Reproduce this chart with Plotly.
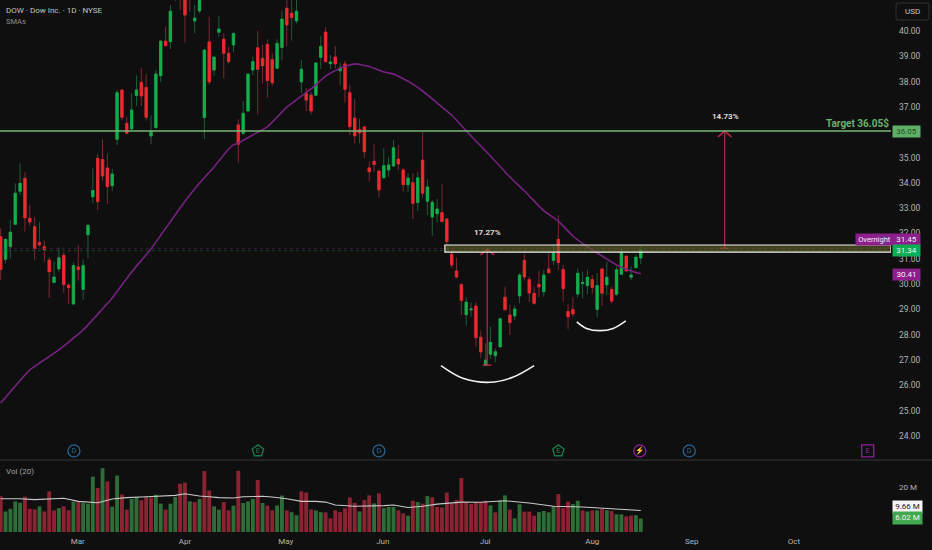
import plotly.graph_objects as go

opens = [31.87,30.98,31.48,32.36,33.67,34.18,32.60,32.27,31.64,31.48,
30.95,30.06,30.60,31.14,29.96,29.21,30.68,29.79,31.95,33.45,
34.97,34.92,34.59,33.89,35.72,37.67,36.35,36.13,37.45,37.97,
37.77,35.85,36.18,38.23,39.60,39.58,41.6,42.3,42.0,42.1,
40.40,40.79,36.58,39.57,38.46,39.95,39.68,39.12,39.45,36.29,
35.96,36.84,38.46,39.34,38.92,39.47,38.87,38.53,39.35,40.90,
40.70,40.40,37.99,37.54,37.47,37.46,38.96,39.96,38.71,38.97,
38.43,38.70,37.56,36.56,36.11,36.21,34.59,34.85,34.47,34.20,
34.51,34.67,34.94,34.51,33.93,34.01,33.22,34.90,33.27,32.65,
32.78,32.82,32.57,31.18,30.52,29.99,28.79,28.98,29.13,27.90,
26.78,27.23,27.17,27.52,29.48,28.78,28.74,29.53,30.94,30.18,
29.64,29.99,29.70,30.60,30.93,31.77,30.58,28.92,29.00,29.61,
30.02,29.94,30.18,29.00,30.60,29.97,29.79,29.60,30.39,31.10,
30.27,30.65,31.03]
highs = [32.20,31.80,32.53,33.98,34.77,34.42,33.13,32.66,32.44,31.72,
31.06,30.89,31.45,31.26,30.03,30.85,31.55,30.98,32.37,34.57,
35.13,35.72,35.15,34.55,37.67,37.71,36.62,37.54,38.25,38.55,
38.30,36.67,38.46,39.64,40.15,41.03,42.2,42.8,42.5,42.6,
41.03,42.0,39.29,40.57,38.99,40.59,39.91,39.38,39.95,36.52,
37.23,38.30,38.99,40.01,39.47,39.67,39.12,39.67,40.80,41.6,
41.4,41.5,38.85,37.73,37.60,38.76,39.80,40.15,39.05,39.39,
38.76,38.83,37.87,37.31,36.55,36.26,34.84,35.52,34.48,35.36,
35.03,35.69,35.49,34.60,34.38,34.38,34.44,36.02,34.14,33.32,
33.36,33.96,32.60,31.35,31.04,30.00,29.48,29.27,29.27,28.16,
27.66,28.32,27.46,28.67,29.89,29.18,29.15,30.43,31.19,30.29,
29.90,30.52,30.56,31.22,31.55,32.73,30.76,29.21,29.48,30.62,
30.49,30.56,30.36,30.43,30.65,30.89,29.90,30.69,31.41,31.15,
30.71,31.15,31.51]
lows = [30.16,30.82,31.02,32.34,33.52,32.07,32.30,30.93,31.48,30.89,
29.46,30.06,30.49,29.66,29.21,29.20,30.14,29.37,31.02,33.19,
32.93,34.09,33.16,33.68,35.50,36.48,35.93,36.06,37.04,37.04,
36.46,35.52,36.15,37.99,39.38,39.29,41.19,40.83,39.55,40.76,
39.91,40.70,35.73,37.89,38.23,39.78,38.13,38.72,39.16,34.80,
35.89,36.84,38.26,36.71,37.93,37.37,37.84,38.49,38.85,39.41,
39.62,40.30,37.56,36.84,36.71,37.45,38.50,38.76,38.50,38.53,
37.84,37.18,35.89,35.56,35.56,34.99,34.05,34.44,33.43,34.18,
34.25,34.64,34.51,33.65,33.65,32.57,32.89,33.42,32.73,31.91,
32.43,32.43,31.54,30.65,30.23,28.78,28.36,28.71,27.53,27.07,
26.78,27.04,26.91,27.50,28.95,27.99,28.58,29.24,30.14,29.29,
29.18,29.48,29.50,30.43,30.76,30.56,29.31,28.23,28.69,29.48,
29.44,29.60,29.64,28.69,29.15,29.57,29.24,29.54,30.36,30.49,
30.16,30.62,30.79]
closes = [30.58,31.77,32.05,33.59,33.98,32.62,32.45,31.40,31.55,31.36,
30.49,30.28,31.04,29.98,29.86,30.73,30.57,30.73,32.32,33.70,
33.26,34.27,33.85,34.35,37.56,36.59,35.96,36.88,37.67,37.43,
36.59,36.02,38.30,39.60,39.42,40.78,42.0,41.5,40.63,41.4,
40.51,41.5,39.25,37.99,38.97,40.08,39.12,38.79,39.90,35.53,
36.75,38.30,38.79,38.49,38.63,38.04,37.96,39.51,40.47,40.24,
40.53,40.78,38.49,37.27,36.84,38.74,39.39,38.79,38.78,38.70,
38.54,37.70,36.22,35.86,35.97,35.23,34.44,34.73,33.72,34.68,
34.71,35.39,34.75,33.93,34.19,33.19,34.20,33.59,33.84,33.23,
32.97,32.47,31.68,30.75,30.28,29.35,29.29,29.02,27.88,27.32,
27.00,27.70,27.33,28.63,28.99,28.48,29.02,30.36,30.28,29.65,
29.24,29.89,30.36,30.45,31.22,30.85,29.82,28.71,28.82,30.43,
30.07,30.27,29.87,29.94,29.64,30.27,29.33,30.57,31.24,30.52,
30.36,31.06,31.34]
volumes = [16.0,9.2,10.4,13.7,13.1,15.8,10.4,10.1,11.5,9.2,
18.2,9.7,10.7,11.5,9.7,13.6,13.6,13.0,12.7,24.8,
19.7,28.6,22.7,11.3,25.3,16.8,10.0,14.8,15.7,14.2,
15.7,15.4,16.7,12.7,10.0,12.7,15.7,21.6,22.1,13.7,
13.4,14.8,27.3,18.6,11.5,10.0,13.4,9.7,11.8,27.4,
13.0,13.7,14.8,23.3,13.0,11.8,9.7,11.9,16.3,9.7,
8.9,7.5,18.2,17.7,10.1,9.7,8.9,8.8,6.1,9.7,
8.9,10.6,15.5,13.1,9.2,14.3,16.4,12.8,17.3,10.7,
11.2,11.2,9.7,8.3,7.3,14.0,13.4,12.7,16.1,15.5,
11.2,11.0,17.7,12.7,14.3,24.2,13.3,12.5,13.3,13.3,
14.0,11.9,8.8,14.2,16.4,10.0,6.1,12.4,9.1,9.1,
7.3,8.9,9.4,8.8,11.5,17.0,10.7,13.6,12.5,14.0,
9.7,9.2,9.7,9.7,10.3,9.8,9.4,7.9,7.9,7.0,
7.3,7.5,6.02]
volume_direction = ("DUUUUDDDUD" "DDUDDUDUUU" "DUDUUDDUUD" "DDUUDUUDDU"
                    "DUDDUUDDUD" "UUUDUDDUUD" "UUDDDUUDDD" "DDDDUDDUDU"
                    "UUDDUDUDUD" "DDDDDDDDDD" "DUDUUDUUDD" "DUUUUDDDUU"
                    "DUDUDUDUUD" "DUU")
sma_index = [0,6,12,17,23,27,31,37,41,44,47,48,49,52,55,59,62,64,67,70,73,76,79,81,84,87,90,93,97,101,105,108,112,115,118,121,124,127,130,132]
sma_values = [25.30,26.61,27.40,28.19,29.45,30.48,31.39,33.01,33.99,34.63,35.34,35.50,35.58,35.89,36.21,36.99,37.43,37.71,38.22,38.54,38.70,38.60,38.38,38.30,38.02,37.63,37.16,36.68,35.85,35.06,34.23,33.68,32.89,32.49,31.90,31.47,31.11,30.76,30.52,30.41]
vol_sma_index = [0,4,7,10,13,16,20,23,26,30,34,36,38,41,43,45,48,50,54,56,59,62,65,67,69,73,79,81,84,87,90,95,99,104,109,114,120,126,132]
vol_sma_values = [14.9,14.9,14.5,14.9,15.1,13.7,13.1,14.8,15.4,15.8,16.4,16.4,17.1,16.1,15.8,15.4,15.2,15.8,16.0,15.7,14.9,13.7,13.7,13.4,12.1,11.5,11.8,12.1,11.0,11.5,12.5,13.4,13.3,14.0,13.0,11.5,11.2,10.4,9.66]
month_index = [15.9,38,58.8,78.8,99.9,122,142.5,163.6]
month_labels = ["Mar","Apr","May","Jun","Jul","Aug","Sep","Oct"]
price_ticks = [24,25,26,27,28,29,30,31,32,33,34,35,37,38,39,40]
arc1_index = [90.8,95.3,100.9,105.6,110]
arc1_price = [26.78,26.28,26.12,26.32,26.78]
arc2_index = [118.8,120.8,123.6,126.3,128.9]
arc2_price = [28.51,28.25,28.16,28.25,28.55]
event_index = [15.1,53.05,78,115,131.8,142,178.8]
event_labels = ["D","E","D","E","⚡","D","E"]
event_colors = ["#2a6496","#1b7a4b","#2a6496","#1b7a4b","#93209a","#2a6496","#93209a"]
event_symbols = ["circle-open","pentagon-open","circle-open","pentagon-open","circle-open","circle-open","square-open"]
target_price = 36.05
box_low, box_high, box_start = 31.26, 31.545, 91.6
overnight_price, last_price, sma_last = 31.45, 31.34, 30.41
measure1 = (100.33, 26.80, 31.39, "17.27%")
measure2 = (149.3, 31.41, 36.05, "14.73%")

W, H, PLOT_W, PLOT_H = 932, 550, 891, 532
X_MAX = 183.6
BG = "#0f0f0f"
TXT = "#b4b4b4"
FONT = "Roboto"
RED, GREEN = "#f2282f", "#12b04c"
RED_W, GREEN_W = "#7c2a30", "#1d5f38"
MAIN_BOTTOM = 1 - 460 / PLOT_H

fig = go.Figure()
n = len(opens)
idx = list(range(n))

fig.add_trace(go.Bar(x=idx, y=volumes, xaxis="x", yaxis="y2",
    marker=dict(color=["#2e6c38" if d == "U" else "#8b2333" for d in volume_direction], line_width=0)))
fig.add_trace(go.Scatter(x=vol_sma_index, y=vol_sma_values, xaxis="x", yaxis="y2", mode="lines",
    line=dict(color="#c8c8c8", width=1.1)))

fig.add_trace(go.Scatter(x=sma_index, y=sma_values, yaxis="y", mode="lines",
    line=dict(color="#76227f", width=1.6, shape="spline", smoothing=0.3)))

fig.add_trace(go.Candlestick(x=idx, open=opens, high=highs, low=lows, close=closes, yaxis="y",
    increasing=dict(line=dict(color=GREEN_W, width=1), fillcolor=GREEN),
    decreasing=dict(line=dict(color=RED_W, width=1), fillcolor=RED), hoverinfo="skip"))
fig.add_trace(go.Candlestick(x=idx, open=opens, close=closes, yaxis="y",
    high=[max(a, b) for a, b in zip(opens, closes)], low=[min(a, b) for a, b in zip(opens, closes)],
    increasing=dict(line=dict(color=GREEN, width=0.6), fillcolor=GREEN),
    decreasing=dict(line=dict(color=RED, width=0.6), fillcolor=RED), hoverinfo="skip"))

fig.add_trace(go.Scatter(x=arc1_index, y=arc1_price, yaxis="y", mode="lines",
    line=dict(color="#f2f2f2", width=1.6, shape="spline")))
fig.add_trace(go.Scatter(x=arc2_index, y=arc2_price, yaxis="y", mode="lines",
    line=dict(color="#f2f2f2", width=1.6, shape="spline")))

for mx, p0, p1, _ in (measure1, measure2):
    fig.add_trace(go.Scatter(x=[mx, mx], y=[p0, p1], yaxis="y", mode="lines",
        line=dict(color="#a3284f", width=1.3)))
    fig.add_trace(go.Scatter(x=[mx-1.4, mx, mx+1.4], y=[p1-0.24, p1, p1-0.24], yaxis="y", mode="lines",
        line=dict(color="#d4264c", width=1.3)))
    fig.add_trace(go.Scatter(x=[mx-0.9, mx+0.9], y=[p0, p0], yaxis="y", mode="lines",
        line=dict(color="#d4264c", width=1.2)))

fig.add_trace(go.Scatter(x=event_index, y=[23.41]*len(event_index), yaxis="y", mode="markers+text",
    marker=dict(symbol=event_symbols, size=12, color=event_colors, line=dict(color=event_colors, width=1.3)),
    text=event_labels, textposition="middle center",
    textfont=dict(family=FONT, size=7.5, color=event_colors)))

shapes = [
    dict(type="line", xref="x", yref="y", x0=-1, x1=X_MAX, y0=target_price, y1=target_price,
         line=dict(color="#74b874", width=1.4)),
    dict(type="line", xref="x", yref="y", x0=-1, x1=X_MAX, y0=31.41, y1=31.41,
         line=dict(color="#4a2050", width=0.8, dash="dot")),
    dict(type="line", xref="x", yref="y", x0=-1, x1=X_MAX, y0=31.32, y1=31.32,
         line=dict(color="#1a4f30", width=0.8, dash="dot")),
    dict(type="rect", xref="x", yref="y", x0=box_start, x1=X_MAX, y0=box_low, y1=box_high,
         fillcolor="rgba(100,100,40,0.6)", line=dict(color="#f0f0f0", width=1.2)),
    dict(type="line", xref="paper", yref="paper", x0=0, x1=W/PLOT_W, y0=MAIN_BOTTOM, y1=MAIN_BOTTOM,
         line=dict(color="#2a2a2a", width=1.5)),
    dict(type="path", xref="paper", yref="paper", line=dict(color="#333333", width=1),
         path=(f"M {898/PLOT_W} {1-3/PLOT_H} L {927/PLOT_W} {1-3/PLOT_H} Q {929/PLOT_W} {1-3/PLOT_H} {929/PLOT_W} {1-5/PLOT_H} "
               f"L {929/PLOT_W} {1-18/PLOT_H} Q {929/PLOT_W} {1-20/PLOT_H} {927/PLOT_W} {1-20/PLOT_H} "
               f"L {898/PLOT_W} {1-20/PLOT_H} Q {896/PLOT_W} {1-20/PLOT_H} {896/PLOT_W} {1-18/PLOT_H} "
               f"L {896/PLOT_W} {1-5/PLOT_H} Q {896/PLOT_W} {1-3/PLOT_H} {898/PLOT_W} {1-3/PLOT_H} Z")),
]

def px(x, y, text, size=8, color=TXT, anchor="left", bg=None, w=None, h=None, bold=False):
    return dict(xref="paper", yref="paper", x=x/PLOT_W, y=1-y/PLOT_H, text=f"<b>{text}</b>" if bold else text,
                showarrow=False, xanchor=anchor, yanchor="middle", font=dict(family=FONT, size=size, color=color),
                bgcolor=bg, width=w, height=h, borderpad=0, align="center")

ann = [
    px(5, 11, "DOW · Dow Inc. · 1D · NYSE", 8, "#c4c4c4"),
    px(5, 22, "SMAs", 7.5, "#8e8e8e"),
    px(5, 471.5, "Vol (20)", 8, "#a0a0a0"),
    px(912.5, 11.5, "USD", 8, "#c8c8c8", "center"),
    px(857, 123, "Target 36.05$", 10, "#67b36c", "center", bold=True),
    px(906.5, 131.5, "36.05", 8, "#1f4a25", "center", "#5fb067", 27, 11),
    px(874.5, 239.5, "Overnight", 7.5, "#f2f2f2", "center", "#8c1f8c", 37, 11),
    px(906.5, 239.5, "31.45", 8, "#f2f2f2", "center", "#8c1f8c", 27, 11),
    px(906.5, 250.8, "31.34", 8, "#f2f2f2", "center", "#0cae52", 27, 11),
    px(906.5, 274.5, "30.41", 8, "#f2f2f2", "center", "#8c1f8c", 27, 11),
    px(908, 487, "20 M", 8, TXT, "center"),
    px(907.5, 506.5, "9.66 M", 8, "#222222", "center", "#f5f5f5", 29, 11.5),
    px(907.5, 518, "6.02 M", 8, "#f5f5f5", "center", "#42a84f", 29, 11.5),
    px(487.5, 232.7, measure1[3], 8, "#dcdcdc", "center", bold=True),
    px(725, 116, measure2[3], 8, "#dcdcdc", "center", bold=True),
]

fig.update_layout(
    width=W, height=H, autosize=False, margin=dict(l=0, r=W-PLOT_W, t=0, b=H-PLOT_H),
    paper_bgcolor=BG, plot_bgcolor=BG, showlegend=False, bargap=0.2, barmode="overlay",
    hovermode=False, shapes=shapes, annotations=ann,
    xaxis=dict(domain=[0, 1], range=[-0.144, X_MAX], anchor="y2", showgrid=False, zeroline=False, showline=False,
               tickmode="array", tickvals=month_index, ticktext=month_labels, ticks="", ticklabelstandoff=3,
               tickfont=dict(family=FONT, size=8, color=TXT), rangeslider=dict(visible=False), fixedrange=True),
    yaxis=dict(domain=[MAIN_BOTTOM, 1], range=[23.05, 41.225], side="right", anchor="x", showgrid=False, zeroline=False,
               showline=False, tickmode="array", tickvals=price_ticks, ticktext=[f"{t:.2f}" for t in price_ticks],
               ticks="", ticklabelstandoff=7, tickfont=dict(family=FONT, size=8.5, color=TXT), fixedrange=True),
    yaxis2=dict(domain=[0, 1-461/PLOT_H], range=[0, 31.8], side="right", anchor="x", showgrid=False, zeroline=False,
                showline=False, showticklabels=False, ticks="", fixedrange=True),
)
fig.write_html("out.html", config={"displayModeBar": False},
               post_script="document.body.style.margin='0';document.documentElement.style.overflow='hidden';document.body.style.background='#0f0f0f';")
